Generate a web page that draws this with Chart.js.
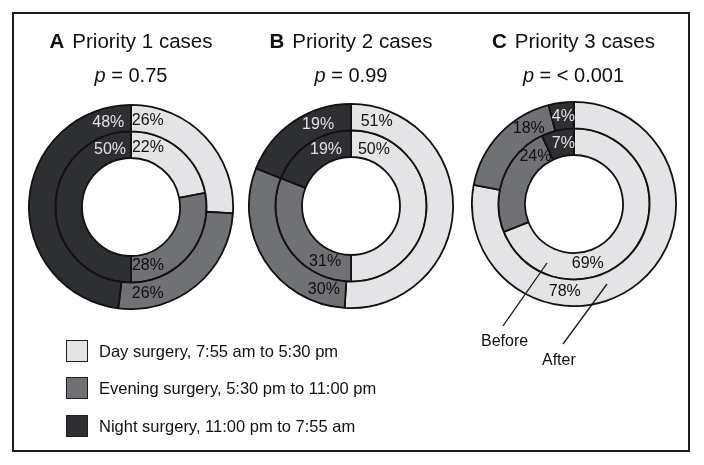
<!DOCTYPE html>
<html>
<head>
<meta charset="utf-8">
<script src="https://cdn.jsdelivr.net/npm/chart.js@4.4.1/dist/chart.umd.min.js"></script>
<style>
  body { margin: 0; background: #fff; font-family: "Liberation Sans", Arial, sans-serif; color: #111; }
  #page { position: relative; width: 704px; height: 465px; overflow: hidden; }
  #frame { position: absolute; left: 12px; top: 12px; width: 678px; height: 440px; border: 2px solid #1e1e1e; box-sizing: border-box; }
  .pie { position: absolute; }
  .title { position: absolute; width: 220px; text-align: center; font-size: 20.5px; white-space: nowrap; }
  .title b { margin-right: 8px; }
  .pval { position: absolute; width: 220px; text-align: center; font-size: 20px; white-space: nowrap; }
  .legend-row { position: absolute; left: 66px; height: 22px; font-size: 16.5px; white-space: nowrap; }
  .legend-row span.box { position: absolute; left: 0; top: 0; width: 22px; height: 22px; box-sizing: border-box; border: 1.5px solid #1e1e1e; }
  .legend-row span.txt { position: absolute; left: 33px; top: 1px; line-height: 20px; }
  .note { position: absolute; font-size: 16px; }
  svg { position: absolute; left: 0; top: 0; }
</style>
</head>
<body>
<div id="page">
  <div id="frame"></div>
  <canvas id="pieA" class="pie" width="206" height="206"></canvas>
  <canvas id="pieB" class="pie" width="206" height="206"></canvas>
  <canvas id="pieC" class="pie" width="206" height="206"></canvas>
  <svg width="704" height="465">
    <line x1="503" y1="326" x2="547" y2="263" stroke="#1a1a1a" stroke-width="1.3"/>
    <line x1="563" y1="344" x2="607" y2="284" stroke="#1a1a1a" stroke-width="1.3"/>
  </svg>
  <div class="note" style="left:481px; top:332px;">Before</div>
  <div class="note" style="left:542px; top:351px;">After</div>
</div>
<script>
// categories (clockwise from 12 o'clock) and rings (outer first)
const categories = ['Day surgery, 7:55 am to 5:30 pm', 'Evening surgery, 5:30 pm to 11:00 pm', 'Night surgery, 11:00 pm to 7:55 am'];
const rings = ['After', 'Before'];
const letters = ['A', 'B', 'C'];
const titles = ['Priority 1 cases', 'Priority 2 cases', 'Priority 3 cases'];
const pValues = ['0.75', '0.99', '< 0.001'];

// percentages: [day, evening, night]
const afterA = [26, 26, 48];
const beforeA = [22, 28, 50];
const afterB = [51, 30, 19];
const beforeB = [50, 31, 19];
const afterC = [78, 18, 4];
const beforeC = [69, 24, 7];

const sliceColors = ['#e4e4e6', '#6f7175', '#2e2f33'];
const textColors = ['#111', '#111', '#e2e2e2'];

// where each % label sits, degrees clockwise from top: [outer ring, inner ring]
const labelAngles = {
  A: [[11, 169, 345], [16, 164, 340]],
  B: [[17, 198, 338], [22, 205, 336]],
  C: [[186, 329, 353], [167, 321, 350]]
};
// centre of each doughnut on the page
const centres = { A: [131, 206.5], B: [351, 206], C: [573.5, 203.5] };

const pctLabels = {
  id: 'pctLabels',
  afterDatasetsDraw(chart, args, opts) {
    const ctx = chart.ctx;
    ctx.save();
    ctx.font = '16px "Liberation Sans", Arial, sans-serif';
    ctx.textAlign = 'center';
    ctx.textBaseline = 'middle';
    chart.data.datasets.forEach((ds, di) => {
      chart.getDatasetMeta(di).data.forEach((arc, i) => {
        const a = opts.angles[di][i] * Math.PI / 180 - Math.PI / 2;
        const r = (arc.innerRadius + arc.outerRadius) / 2 - 1;
        ctx.fillStyle = textColors[i];
        ctx.fillText(ds.data[i] + '%', arc.x + r * Math.cos(a), arc.y + r * Math.sin(a));
      });
    });
    ctx.restore();
  }
};

function makePie(key, after, before, idx) {
  const [cx, cy] = centres[key];
  const cv = document.getElementById('pie' + key);
  cv.style.left = (cx - 103) + 'px';
  cv.style.top = (cy - 103) + 'px';

  const page = document.getElementById('page');
  const t = document.createElement('div');
  t.className = 'title';
  t.style.left = (cx - 110) + 'px';
  t.style.top = '29px';
  t.innerHTML = '<b>' + letters[idx] + '</b>' + titles[idx];
  page.appendChild(t);
  const p = document.createElement('div');
  p.className = 'pval';
  p.style.left = (cx - 110) + 'px';
  p.style.top = '64px';
  p.innerHTML = '<i>p</i> = ' + pValues[idx];
  page.appendChild(p);

  new Chart(cv, {
    type: 'doughnut',
    data: {
      labels: categories,
      datasets: [
        { label: rings[0], data: after, backgroundColor: sliceColors },
        { label: rings[1], data: before, backgroundColor: sliceColors }
      ]
    },
    options: {
      responsive: false,
      animation: false,
      cutout: '48%',
      layout: { padding: 0 },
      elements: { arc: { borderColor: '#111', borderWidth: 1.8 } },
      plugins: {
        legend: { display: false },
        tooltip: { enabled: false },
        pctLabels: { angles: labelAngles[key] }
      }
    },
    plugins: [pctLabels]
  });
}

makePie('A', afterA, beforeA, 0);
makePie('B', afterB, beforeB, 1);
makePie('C', afterC, beforeC, 2);

// legend
const legendTops = [340, 377, 415];
categories.forEach((c, i) => {
  const row = document.createElement('div');
  row.className = 'legend-row';
  row.style.top = legendTops[i] + 'px';
  row.innerHTML = '<span class="box" style="background:' + sliceColors[i] + '"></span><span class="txt">' + c + '</span>';
  document.getElementById('page').appendChild(row);
});
</script>
</body>
</html>
